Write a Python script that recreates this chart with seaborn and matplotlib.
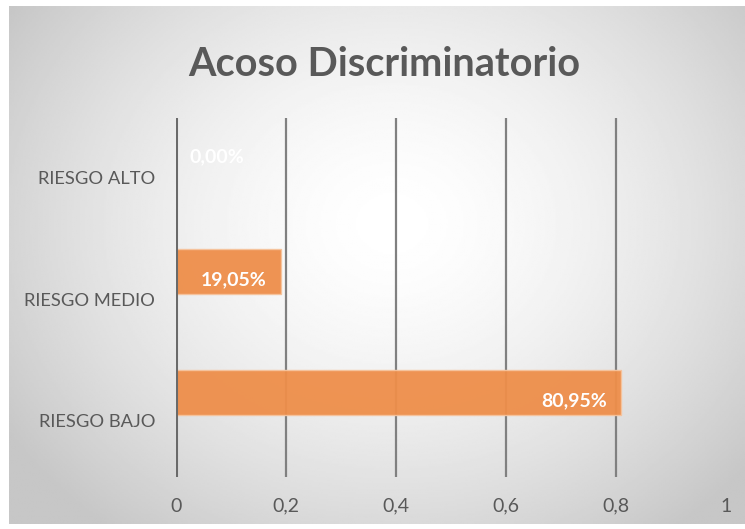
import numpy as np
import pandas as pd
import seaborn as sns
import matplotlib.pyplot as plt
import matplotlib.transforms as mtransforms

# datos del grafico
categorias = ['RIESGO ALTO', 'RIESGO MEDIO', 'RIESGO BAJO']
porcentajes = [0.0, 0.1905, 0.8095]
etiquetas = ['0,00%', '19,05%', '80,95%']
ticks_x = [0, 0.2, 0.4, 0.6, 0.8, 1]
ticks_x_txt = ['0', '0,2', '0,4', '0,6', '0,8', '1']

df = pd.DataFrame({'categoria': categorias, 'valor': porcentajes})

sns.set_theme(style='white')
plt.rcParams['font.family'] = ['Lato', 'DejaVu Sans']

W, H = 745, 529
fig = plt.figure(figsize=(W / 100, H / 100), dpi=100)

# fondo con degradado radial (blanco al centro, gris en los bordes)
bg = fig.add_axes([9 / W, 5 / H, 736 / W, 518 / H], zorder=-5)
yy, xx = np.mgrid[0:1:300j, 0:1:400j]
r = np.sqrt(((xx - 0.52) / 0.62) ** 2 + ((yy - 0.42) / 0.75) ** 2)
grad = np.clip(1 - 0.22 * r ** 1.6, 0.78, 1)
bg.imshow(grad, cmap='gray', vmin=0, vmax=1, aspect='auto', extent=[0, 1, 1, 0])
bg.axis('off')

ax = fig.add_axes([176 / W, 1 - 477 / H, 550 / W, 359 / H])
ax.set_facecolor('none')

sns.barplot(data=df, x='valor', y='categoria', orient='h', color='#EE8E4A',
            saturation=1, alpha=0.95, width=0.37, edgecolor='#F6C39C',
            linewidth=1, ax=ax, zorder=3)

ax.set_xlim(0, 1)
ax.set_ylim(2.70, -0.264)
ax.set_xticks(ticks_x)
ax.set_xticklabels(ticks_x_txt)
ax.set_xlabel('')
ax.set_ylabel('')

# lineas de division verticales
for t in ticks_x[1:-1]:
    ax.axvline(t, color='#808080', lw=1.6, zorder=2)
ax.axvline(0, color='#6a6a6a', lw=2.2, zorder=4)

for s in ax.spines.values():
    s.set_visible(False)

ax.tick_params(axis='x', length=0, pad=15, labelsize=14, labelcolor='#595959')
ax.tick_params(axis='y', length=0, pad=15, labelsize=13.2, labelcolor='#595959')

# etiquetas de categoria desplazadas hacia abajo como en el original
off = mtransforms.ScaledTranslation(0, -28 / 100, fig.dpi_scale_trans)
for lab in ax.get_yticklabels():
    lab.set_transform(lab.get_transform() + off)

# etiquetas de datos
for i, (v, txt) in enumerate(zip(porcentajes, etiquetas)):
    if v > 0.05:
        ax.annotate(txt, (v, i), xytext=(-10, -6), textcoords='offset points',
                    ha='right', va='center', color='white', fontsize=14,
                    fontweight='bold', zorder=5)
    else:
        ax.annotate(txt, (v, i), xytext=(10, -5), textcoords='offset points',
                    ha='left', va='center', color='white', fontsize=14,
                    fontweight='bold', zorder=5)

fig.text(384 / W, 1 - 64 / H, 'Acoso Discriminatorio', ha='center', va='center',
         fontsize=28.5, fontweight='bold', color='#595959')

fig.savefig('out.png', dpi=100)
